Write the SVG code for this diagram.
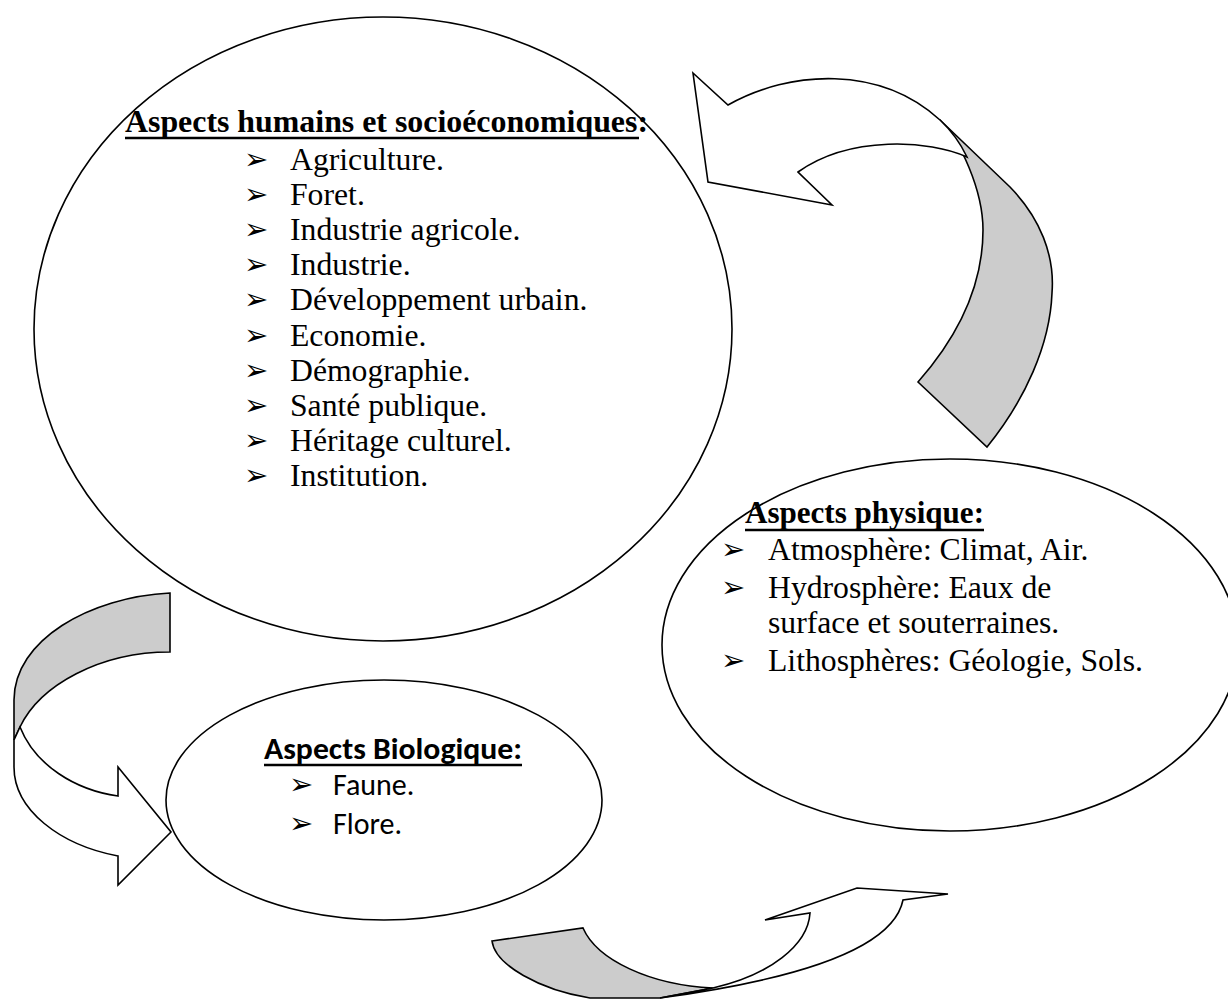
<svg xmlns="http://www.w3.org/2000/svg" width="1228" height="999" viewBox="0 0 1228 999">
  <style>
    .shape { fill: none; stroke: #000; stroke-width: 1.6; }
    .face { fill: #ffffff; stroke: #000; stroke-width: 1.6; stroke-linejoin: miter; }
    .back { fill: #cccccc; stroke: #000; stroke-width: 1.6; stroke-linejoin: miter; }
    .serif { font-family: "Liberation Serif", "Times New Roman", serif; font-size: 31.7px; fill: #000; }
    .sans { font-family: Carlito, Calibri, Lato, "Open Sans", sans-serif; font-size: 30px; fill: #000; }
    .title { font-weight: bold; }
    .bullet { font-family: "DejaVu Sans", sans-serif; font-size: 29px; fill: #000; }
    .ul { stroke: #000; stroke-width: 2.6; }
  </style>

  <rect x="0" y="0" width="1228" height="999" fill="#ffffff"/>

  <!-- curved arrows linking the three aspects -->
  <g id="connectors">
    <!-- top right: from the physical aspects back up to the human aspects -->
    <g id="arrow-physique-humains">
      <path class="back" d="M 940,120 L 1010,187 C 1040,218 1055,255 1052,293 C 1050,345 1025,400 987,447 L 918,382 C 955,340 983,290 983,230 C 983,190 960,140 940,120 Z"/>
      <path class="face" d="M 693,73 L 728,105 C 790,70 880,65 940,120 Q 957,136 967,157 C 930,140 850,135 798,172 L 832,205 L 708,182 Z"/>
    </g>
    <!-- left: from the human aspects down to the biological aspects -->
    <g id="arrow-humains-biologique">
      <path class="back" d="M 170,593 L 170,652 C 100,652 40,685 20,727 L 14,740 L 14,700 C 14,640 90,597 170,593 Z"/>
      <path class="face" d="M 20,727 C 35,765 75,790 118,796 L 118,767 L 171,832 L 118,885 L 118,856 C 60,845 14,810 14,767 L 14,740 Z"/>
    </g>
    <!-- bottom: from the biological aspects over to the physical aspects -->
    <g id="arrow-biologique-physique">
      <path class="back" d="M 492,941 L 583,928 C 597,960 650,985 713,988 L 660,998 L 590,998 C 540,990 495,965 492,941 Z"/>
      <path class="face" d="M 713,988 C 770,975 808,945 810,913 L 765,920 L 857,888 L 948,894 L 903,900 C 895,940 830,975 660,998 Z"/>
    </g>
  </g>

  <!-- human and socio-economic aspects -->
  <g id="node-humains">
    <ellipse class="shape" cx="383" cy="329" rx="349" ry="312"/>
    <text class="serif title" x="125" y="132" textLength="523" lengthAdjust="spacingAndGlyphs">Aspects humains et socioéconomiques:</text>
    <line class="ul" x1="125" y1="138" x2="639" y2="138"/>
    <g class="bullet">
      <text x="244" y="169">➢</text>
      <text x="244" y="204">➢</text>
      <text x="244" y="239">➢</text>
      <text x="244" y="274">➢</text>
      <text x="244" y="309">➢</text>
      <text x="244" y="345">➢</text>
      <text x="244" y="380">➢</text>
      <text x="244" y="415">➢</text>
      <text x="244" y="450">➢</text>
      <text x="244" y="485">➢</text>
    </g>
    <g class="serif">
      <text x="290" y="170">Agriculture.</text>
      <text x="290" y="205">Foret.</text>
      <text x="290" y="240">Industrie agricole.</text>
      <text x="290" y="275">Industrie.</text>
      <text x="290" y="310">Développement urbain.</text>
      <text x="290" y="346">Economie.</text>
      <text x="290" y="381">Démographie.</text>
      <text x="290" y="416">Santé publique.</text>
      <text x="290" y="451">Héritage culturel.</text>
      <text x="290" y="486">Institution.</text>
    </g>
  </g>

  <!-- physical aspects -->
  <g id="node-physique">
    <ellipse class="shape" cx="950" cy="645" rx="288" ry="186"/>
    <text class="serif title" x="745" y="523" textLength="239" lengthAdjust="spacingAndGlyphs">Aspects physique:</text>
    <line class="ul" x1="745" y1="530" x2="984" y2="530"/>
    <g class="bullet">
      <text x="721" y="559">➢</text>
      <text x="721" y="597">➢</text>
      <text x="721" y="670">➢</text>
    </g>
    <g class="serif">
      <text x="768" y="560">Atmosphère: Climat, Air.</text>
      <text x="768" y="598">Hydrosphère: Eaux de</text>
      <text x="768" y="633">surface et souterraines.</text>
      <text x="768" y="671">Lithosphères: Géologie, Sols.</text>
    </g>
  </g>

  <!-- biological aspects -->
  <g id="node-biologique">
    <ellipse class="shape" cx="384" cy="800" rx="218" ry="120"/>
    <text class="sans title" x="264" y="759" textLength="258" lengthAdjust="spacingAndGlyphs">Aspects Biologique:</text>
    <line class="ul" x1="264" y1="765" x2="522" y2="765"/>
    <g class="bullet">
      <text x="289" y="794">➢</text>
      <text x="289" y="833">➢</text>
    </g>
    <g class="sans">
      <text x="333" y="795">Faune.</text>
      <text x="333" y="834">Flore.</text>
    </g>
  </g>
</svg>
